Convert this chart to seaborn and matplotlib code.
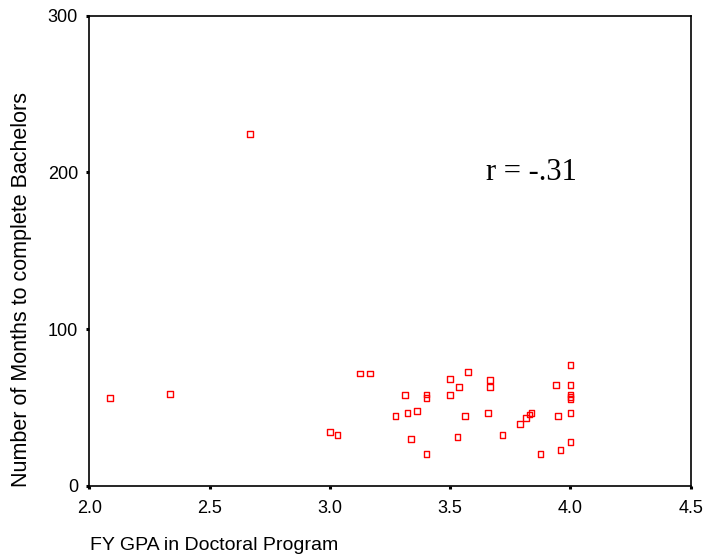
import matplotlib
matplotlib.use("Agg")
import matplotlib.pyplot as plt
import seaborn as sns
import pandas as pd

gpa = [2.086, 2.335, 2.668,
       3.125, 3.167, 3.313, 3.402, 3.402, 3.500, 3.574, 3.667, 3.667, 3.538, 3.500,
       3.273, 3.323, 3.361, 3.563, 3.657, 3.790, 3.000, 3.032, 3.338, 3.531, 3.718, 3.402,
       4.000, 3.939, 4.000, 4.000, 4.000, 4.000, 4.000, 3.948, 3.830, 3.838, 3.814,
       4.000, 3.959, 3.876]
months = [56.2, 58.7, 224.4,
          71.6, 71.6, 58.1, 58.3, 55.8, 68.3, 72.4, 67.6, 62.8, 62.8, 58.1,
          44.5, 46.2, 47.7, 44.5, 46.2, 39.6, 34.3, 32.5, 30.0, 30.9, 32.5, 20.4,
          77.2, 64.5, 64.5, 58.3, 56.8, 55.3, 46.2, 44.5, 45.5, 46.2, 43.4,
          27.7, 23.0, 20.4]

xticks = [2.0, 2.5, 3.0, 3.5, 4.0, 4.5]
xticklabels = ["2.0", "2.5", "3.0", "3.5", "4.0", "4.5"]
yticks = [0, 100, 200, 300]
yticklabels = ["0", "100", "200", "300"]

df = pd.DataFrame({"gpa": gpa, "months": months})

sns.set_style("white")
plt.rcParams['font.family'] = ['Liberation Sans', 'DejaVu Sans']
plt.rcParams['text.color'] = 'black'
plt.rcParams['xtick.color'] = 'black'
plt.rcParams['ytick.color'] = 'black'

fig = plt.figure(figsize=(7.04, 5.59), dpi=100)
ax = fig.add_axes([89.3/704, 73.3/559, (690.7-89.3)/704, (485.7-15.7)/559])

sns.scatterplot(data=df, x="gpa", y="months", ax=ax, marker="s", s=17,
                facecolors="none", edgecolor="#ff0000", linewidth=1.0)

ax.set_xlim(2.0, 4.5)
ax.set_ylim(0, 300)
ax.set_xticks(xticks)
ax.set_xticklabels(xticklabels, fontsize=13, color="black")
ax.set_yticks(yticks)
ax.set_yticklabels(yticklabels, fontsize=13, color="black")
ax.tick_params(axis="both", which="major", bottom=True, left=True,
               direction="out", length=2.2, width=2.2, color="black")
ax.tick_params(axis="x", pad=8)
ax.tick_params(axis="y", pad=6)
for sp in ax.spines.values():
    sp.set_color("black")
    sp.set_linewidth(1.2)
    sp.set_visible(True)
ax.set_xlabel("")
ax.set_ylabel("")

ax.text(3.649, 199.6, "r = -.31", fontsize=22, color="black",
        family=["Liberation Serif", "DejaVu Serif"], ha="left", va="center")

fig.text(90/704, 1 - 546/559, "FY GPA in Doctoral Program", fontsize=14,
         color="black", ha="left", va="center")
fig.text(22/704, 1 - 487/559, "Number of Months to complete Bachelors", fontsize=15.5,
         color="black", rotation=90, ha="center", va="bottom")

fig.savefig("out.png", dpi=100)
